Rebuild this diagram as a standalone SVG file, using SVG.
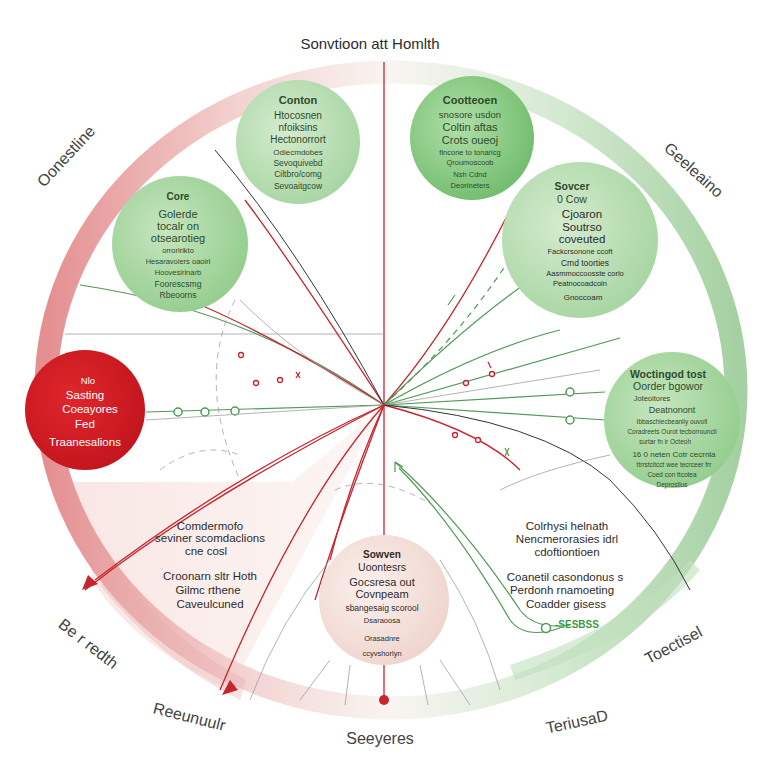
<svg xmlns="http://www.w3.org/2000/svg" width="768" height="768" viewBox="0 0 768 768">
<defs>
<linearGradient id="ringG" x1="0" y1="0" x2="1" y2="0">
<stop offset="0" stop-color="#e48f91"/>
<stop offset="0.28" stop-color="#f3d2d0"/>
<stop offset="0.5" stop-color="#f9f5f2"/>
<stop offset="0.72" stop-color="#d8ebd5"/>
<stop offset="1" stop-color="#a5d1a2"/>
</linearGradient>
<radialGradient id="gLight" cx="0.4" cy="0.4" r="0.7">
<stop offset="0" stop-color="#d5ebcf"/>
<stop offset="1" stop-color="#a3d49e"/>
</radialGradient>
<radialGradient id="gMid" cx="0.4" cy="0.4" r="0.7">
<stop offset="0" stop-color="#c6e6bf"/>
<stop offset="1" stop-color="#90cb8a"/>
</radialGradient>
<radialGradient id="gDark" cx="0.4" cy="0.4" r="0.7">
<stop offset="0" stop-color="#b1dfa8"/>
<stop offset="1" stop-color="#6cba69"/>
</radialGradient>
<radialGradient id="rRed" cx="0.4" cy="0.4" r="0.7">
<stop offset="0" stop-color="#e0262c"/>
<stop offset="1" stop-color="#c0141b"/>
</radialGradient>
<radialGradient id="pink" cx="0.4" cy="0.4" r="0.7">
<stop offset="0" stop-color="#fbf0ec"/>
<stop offset="1" stop-color="#eed2cb"/>
</radialGradient>
<linearGradient id="pinkBand" x1="0" y1="0" x2="1" y2="0">
<stop offset="0" stop-color="#f6dcd8"/>
<stop offset="1" stop-color="#fcf3f1"/>
</linearGradient>
<style>
.t{font-family:"Liberation Sans",Arial,sans-serif;text-anchor:middle;fill:#2c2c2c}
.tg{font-family:"Liberation Sans",Arial,sans-serif;text-anchor:middle;fill:#2f4a2c}
.tw{font-family:"Liberation Sans",Arial,sans-serif;text-anchor:middle;fill:#ffffff}
.lab{font-family:"Liberation Sans",Arial,sans-serif;text-anchor:middle;fill:#444;font-size:16px}
.rl{stroke:#c8242b;stroke-width:1.3;fill:none}
.gl{stroke:#4f9a57;stroke-width:1.2;fill:none}
.grl{stroke:#a0a0a0;stroke-width:0.8;fill:none}
.dk{stroke:#333;stroke-width:1;fill:none}
.dash{stroke-dasharray:6 5}
.rd{fill:#fff;stroke:#c8242b;stroke-width:1.3}
.gd{fill:#fff;stroke:#4f9a57;stroke-width:1.5}
</style>
</defs>
<rect width="768" height="768" fill="#ffffff"/>
<!-- background bands -->
<path d="M70 482 L292 482 L384 405 L230 690 Q140 650 95 585 Z" fill="url(#pinkBand)" opacity="0.7"/>
<ellipse cx="391" cy="390" rx="345" ry="318" fill="none" stroke="url(#ringG)" stroke-width="23"/>
<path d="M100 585 Q160 660 240 700 L246 680 Q170 640 118 572 Z" fill="#e9a9aa" opacity="0.35"/>
<path d="M515 680 Q640 640 700 570 L690 560 Q630 625 510 665 Z" fill="#bfe0bc" opacity="0.6"/>

<text class="t" x="370" y="49" font-size="15">Sonvtioon att Homlth</text>

<g id="connectors">
<line x1="384" y1="62" x2="384" y2="700" class="rl"/>
<circle cx="384" cy="700" r="5" fill="#c8242b"/>
<!-- left horizontals -->
<line x1="65" y1="334" x2="384" y2="334" class="grl"/>
<line x1="146" y1="412" x2="384" y2="405" class="gl"/>
<circle cx="178" cy="412" r="4" class="gd"/>
<circle cx="205" cy="412" r="4" class="gd"/>
<circle cx="235" cy="411" r="4" class="gd"/>
<line x1="146" y1="420" x2="384" y2="405" class="grl"/>
<!-- right horizontals -->
<line x1="384" y1="405" x2="605" y2="392" class="gl"/>
<circle cx="570" cy="392" r="4" class="gd"/>
<line x1="384" y1="405" x2="605" y2="420" class="gl"/>
<circle cx="570" cy="420" r="4" class="gd"/>
<line x1="384" y1="405" x2="620" y2="338" class="gl"/>
<line x1="384" y1="405" x2="600" y2="370" class="grl"/>
<!-- lines to upper left -->
<path d="M384 405 Q290 260 245 200" class="rl"/>
<path d="M384 405 Q300 250 215 150" class="dk"/>
<path d="M384 405 Q250 310 80 285" class="gl"/>
<path d="M384 405 Q250 320 150 285" class="rl"/>
<path d="M384 405 Q300 360 240 300" class="grl"/>
<path d="M235 300 Q195 380 240 480" class="grl dash"/>
<circle cx="241" cy="355" r="2.5" class="rd"/>
<circle cx="256" cy="383" r="2.5" class="rd"/>
<circle cx="280" cy="380" r="2.5" class="rd"/>
<path d="M296 372 l4 6 M300 372 l-4 6" class="rl"/>
<!-- lines to upper right -->
<path d="M384 405 Q450 330 510 210" class="rl"/>
<path d="M384 405 Q470 320 545 270" class="gl"/>
<path d="M384 405 Q480 350 560 330" class="gl"/>
<path d="M384 405 Q500 300 555 175" class="gl dash"/>
<path d="M455 295 L448 305" class="gl"/>
<circle cx="466" cy="383" r="2.5" class="rd"/>
<circle cx="492" cy="374" r="2.5" class="rd"/>
<path d="M488 362 l3 6" class="rl"/>
<!-- right lower -->
<path d="M384 405 Q480 430 520 470" class="rl"/>
<circle cx="455" cy="435" r="2.5" class="rd"/>
<circle cx="478" cy="440" r="2.5" class="rd"/>
<path d="M384 405 Q540 420 610 480 Q660 530 690 590" class="dk"/>
<path d="M395 462 Q460 520 520 610 Q535 630 570 625" class="gl"/>
<path d="M399 468 Q455 525 510 620 Q525 640 560 628" class="gl"/>
<path d="M395 462 l0 10 M395 462 l8 5" class="gl"/>
<circle cx="546" cy="628" r="4.5" class="gd"/>
<path d="M500 490 Q540 470 610 455" class="grl"/>
<path d="M505 448 l4 8 M509 448 l-4 8" class="gl"/>
<!-- left lower -->
<path d="M384 405 Q240 470 95 580" class="rl"/>
<path d="M384 405 Q200 500 85 590" class="rl"/>
<path d="M384 405 Q300 500 220 690" class="rl" stroke-width="2"/>
<path d="M384 405 Q340 520 315 600" class="rl" stroke-width="2"/>
<path d="M384 405 Q350 480 330 560" class="rl"/>
<path d="M335 490 Q380 470 440 510" class="grl dash"/>
<path d="M160 470 Q200 440 240 455" class="grl dash"/>
<path d="M230 680 L222 695 L238 690 Z" fill="#c8242b"/>
<path d="M88 575 L82 590 L98 584 Z" fill="#c8242b"/>
<!-- bottom faint lines -->
<path d="M330 660 L300 700" class="grl"/>
<path d="M350 665 L345 705" class="grl"/>
<path d="M420 665 L428 705" class="grl"/>
<path d="M440 660 L470 705" class="grl"/>
<path d="M330 560 Q280 620 250 700" class="grl"/>
<path d="M440 560 Q480 620 500 690" class="grl"/>
</g>

<g id="n-topleft">
<circle cx="298" cy="142" r="62" fill="url(#gLight)"/>
<text class="tg" x="298" y="104" font-size="11" font-weight="bold">Conton</text>
<text class="tg" x="298" y="119" font-size="10">Htocosnen</text>
<text class="tg" x="298" y="131" font-size="10">nfoiksins</text>
<text class="tg" x="298" y="143" font-size="10">Hectonorrort</text>
<text class="tg" x="298" y="155" font-size="8">Odiecmdobes</text>
<text class="tg" x="298" y="166" font-size="8.5">Sevoquivebd</text>
<text class="tg" x="298" y="177" font-size="8.5">Ciltbro/comg</text>
<text class="tg" x="298" y="189" font-size="8.5">Sevoaitgcow</text>
</g>

<g id="n-topright">
<circle cx="472" cy="138" r="62" fill="url(#gDark)"/>
<text class="tg" x="470" y="104" font-size="11" font-weight="bold">Cootteoen</text>
<text class="tg" x="470" y="118" font-size="9.5">snosore usdon</text>
<text class="tg" x="470" y="131" font-size="11">Coltin aftas</text>
<text class="tg" x="470" y="144" font-size="11">Crots oueoj</text>
<text class="tg" x="470" y="155" font-size="7.5">flncone to tonaricg</text>
<text class="tg" x="470" y="165" font-size="7.5">Qroumoscoob</text>
<text class="tg" x="470" y="177" font-size="7.5">Nsh Cdnd</text>
<text class="tg" x="470" y="188" font-size="7.5">Deorineters</text>
</g>

<g id="n-left">
<circle cx="180" cy="244" r="68" fill="url(#gMid)"/>
<text class="tg" x="178" y="200" font-size="10" font-weight="bold">Core</text>
<text class="tg" x="178" y="218" font-size="11">Golerde</text>
<text class="tg" x="178" y="230" font-size="11">tocalr on</text>
<text class="tg" x="178" y="242" font-size="11">otsearotieg</text>
<text class="tg" x="178" y="253" font-size="7.5">orrorlrikto</text>
<text class="tg" x="178" y="264" font-size="7.5">Hesaravoiers oaoirl</text>
<text class="tg" x="178" y="275" font-size="7.5">Hoovesirinarb</text>
<text class="tg" x="178" y="287" font-size="8.5">Foorescsmg</text>
<text class="tg" x="178" y="298" font-size="8.5">Rbeoorns</text>
</g>

<g id="n-right">
<circle cx="580" cy="240" r="78" fill="url(#gLight)"/>
<text class="tg" x="572" y="190" font-size="10.5" font-weight="bold">Sovcer</text>
<text class="tg" x="572" y="203" font-size="10.5">0 Cow</text>
<text class="t" x="582" y="218" font-size="11.5">Cjoaron</text>
<text class="t" x="582" y="231" font-size="11.5">Soutrso</text>
<text class="t" x="582" y="243" font-size="11.5">coveuted</text>
<text class="t" x="580" y="254" font-size="7.5">Fackcrsonone ccoft</text>
<text class="t" x="585" y="266" font-size="8.5">Cmd toorties</text>
<text class="t" x="585" y="276" font-size="7.5">Aasmmoccoosste corlo</text>
<text class="t" x="580" y="286" font-size="7.5">Peatnocoadcoln</text>
<text class="t" x="583" y="300" font-size="8">Gnoccoam</text>
</g>

<g id="n-red">
<circle cx="85" cy="410" r="60" fill="url(#rRed)"/>
<text class="tw" x="88" y="384" font-size="9.5">Nlo</text>
<text class="tw" x="85" y="399" font-size="11.5">Sasting</text>
<text class="tw" x="90" y="413" font-size="11.5">Coeayores</text>
<text class="tw" x="85" y="428" font-size="11.5">Fed</text>
<text class="tw" x="85" y="446" font-size="11.5">Traanesalions</text>
</g>

<g id="n-rightlow">
<circle cx="672" cy="420" r="68" fill="url(#gMid)"/>
<text class="tg" x="668" y="378" font-size="10.5" font-weight="bold">Woctingod tost</text>
<text class="tg" x="668" y="390" font-size="10.5">Oorder bgowor</text>
<text class="tg" x="652" y="401" font-size="7.5">Joteoitores</text>
<text class="tg" x="672" y="413" font-size="9">Deatnonont</text>
<text class="tg" x="672" y="424" font-size="6.5">Ibbaschiecbeanliy ouvolt</text>
<text class="tg" x="672" y="434" font-size="6.5">Coradreets Ourot tecborrouncli</text>
<text class="tg" x="665" y="444" font-size="6.5">surtar fn ir Octeoh</text>
<text class="tg" x="674" y="457" font-size="8">16 0 neten Cotr cecrnla</text>
<text class="tg" x="674" y="467" font-size="6.5">ttrrstcitcct wee tecrceer frr</text>
<text class="tg" x="672" y="477" font-size="6.5">Coed con ttcotea</text>
<text class="tg" x="672" y="487" font-size="6.5">Deprostlus</text>
</g>

<g id="n-bottom">
<circle cx="384" cy="600" r="65" fill="url(#pink)"/>
<text class="t" x="382" y="558" font-size="10" font-weight="bold">Sowven</text>
<text class="t" x="382" y="571" font-size="10.5">Uoontesrs</text>
<text class="t" x="382" y="586" font-size="11">Gocsresa out</text>
<text class="t" x="382" y="598" font-size="11">Covnpeam</text>
<text class="t" x="382" y="611" font-size="8.5">sbangesaig scorool</text>
<text class="t" x="382" y="623" font-size="7.5">Dsaraoosa</text>
<text class="t" x="382" y="641" font-size="7.5">Orasadnre</text>
<text class="t" x="382" y="656" font-size="7.5">ccyvshorlyn</text>
</g>

<g id="txt-left">
<text class="t" x="210" y="530" font-size="11.5">Comdermofo</text>
<text class="t" x="210" y="542" font-size="11.5">seviner scomdaclions</text>
<text class="t" x="206" y="555" font-size="11.5">cne cosl</text>
<text class="t" x="210" y="580" font-size="11.5">Croonarn sltr Hoth</text>
<text class="t" x="208" y="594" font-size="11.5">Gilmc rthene</text>
<text class="t" x="210" y="608" font-size="11.5">Caveulcuned</text>
</g>

<g id="txt-right">
<text class="t" x="567" y="530" font-size="11.5">Colrhysi helnath</text>
<text class="t" x="567" y="543" font-size="11.5">Nencmerorasies idrl</text>
<text class="t" x="567" y="556" font-size="11.5">cdoftiontioen</text>
<text class="t" x="565" y="581" font-size="11.5">Coanetil casondonus s</text>
<text class="t" x="562" y="594" font-size="11.5">Perdonh rnamoeting</text>
<text class="t" x="566" y="608" font-size="11.5">Coadder gisess</text>
<text x="555" y="628" font-size="10" font-weight="bold" fill="#3d9a43" font-family="Liberation Sans,Arial,sans-serif">-SESBSS</text>
</g>

<g id="outer-labels">
<text class="lab" transform="translate(70 160) rotate(-47)">Oonestline</text>
<text class="lab" transform="translate(690 174) rotate(42)">Geeleaino</text>
<text class="lab" transform="translate(85 648) rotate(38)">Be r redth</text>
<text class="lab" transform="translate(188 722) rotate(14)">Reeunuulr</text>
<text class="lab" x="380" y="744">Seeyeres</text>
<text class="lab" transform="translate(578 727) rotate(-12)">TeriusaD</text>
<text class="lab" transform="translate(676 650) rotate(-28)">Toectisel</text>
</g>
</svg>
